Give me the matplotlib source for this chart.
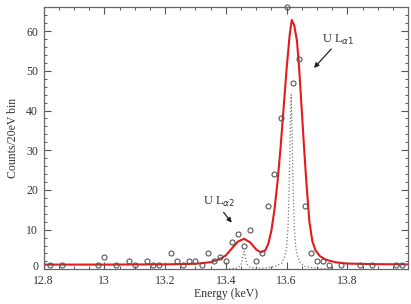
import matplotlib
matplotlib.use("Agg")
import matplotlib.pyplot as plt
import matplotlib.transforms as mtransforms
from matplotlib.ticker import MultipleLocator

# measured counts, 20 eV bins
energy = [12.82, 12.86, 12.98, 13.00, 13.04, 13.08, 13.10, 13.14, 13.16, 13.18,
          13.22, 13.24, 13.26, 13.28, 13.30, 13.32, 13.34, 13.36, 13.38, 13.40,
          13.42, 13.44, 13.46, 13.48, 13.50, 13.52, 13.54, 13.56, 13.58, 13.60,
          13.62, 13.64, 13.66, 13.68, 13.70, 13.72, 13.74, 13.78, 13.84, 13.88,
          13.96, 13.98]
counts = [1, 1, 1, 3, 1, 2, 1, 2, 1, 1,
          4, 2, 1, 2, 2, 1, 4, 2, 3, 2,
          7, 9, 6, 10, 2, 4, 16, 24, 38, 66,
          47, 53, 16, 4, 2, 2, 1, 1, 1, 1,
          1, 1]

# fitted curve (red)
fit_e = [12.80, 13.00, 13.20, 13.30, 13.35, 13.38, 13.40, 13.42, 13.44, 13.46,
         13.48, 13.50, 13.515, 13.53, 13.54, 13.55, 13.56, 13.57, 13.58, 13.59,
         13.60, 13.61, 13.617, 13.625, 13.634, 13.641, 13.650, 13.658, 13.665, 13.675,
         13.685, 13.695, 13.71, 13.73, 13.76, 13.80, 13.90, 14.00]
fit_c = [1.2, 1.2, 1.25, 1.4, 1.8, 2.6, 3.5, 5.3, 7.0, 7.7,
         6.8, 5.0, 4.3, 4.8, 6.5, 9.8, 15.0, 22.0, 30.5, 40.5,
         50.5, 59.0, 62.8, 61.5, 57.6, 51.0, 40.0, 30.0, 22.0, 12.0,
         7.0, 4.8, 3.3, 2.4, 1.8, 1.45, 1.3, 1.25]

# intrinsic line shapes (dotted)
line_e = [13.40, 13.42, 13.44, 13.45, 13.454, 13.457, 13.46, 13.463, 13.466, 13.47,
          13.48, 13.50, 13.53, 13.56, 13.585, 13.595, 13.60, 13.605, 13.609, 13.612,
          13.615, 13.618, 13.621, 13.625, 13.63, 13.635, 13.645, 13.66, 13.685, 13.715,
          13.75]
line_c = [0.1, 0.15, 0.4, 1.2, 2.3, 3.6, 4.5, 3.6, 2.3, 1.3,
          0.5, 0.3, 0.35, 0.7, 1.6, 3.6, 5.6, 11.0, 22.0, 35.0,
          44.0, 35.0, 22.0, 11.0, 5.6, 3.6, 1.6, 0.75, 0.4, 0.2,
          0.12]

xticks = [12.8, 13.0, 13.2, 13.4, 13.6, 13.8]
xtick_labels = ["12.8", "13", "13.2", "13.4", "13.6", "13.8"]
yticks = [0, 10, 20, 30, 40, 50, 60]

plt.rcParams["font.family"] = ["Liberation Serif", "DejaVu Serif"]
plt.rcParams["font.size"] = 8.5

fig = plt.figure(figsize=(4.11, 3.04), dpi=100)
ax = fig.add_axes([0.106, 0.114, 0.887, 0.862])

ax.plot(line_e, line_c, ls=":", color="#777777", lw=0.9)
ax.plot(fit_e, fit_c, color="#e41a1c", lw=1.5)
ax.plot(energy, counts, "o", mfc="none", mec="#555555", ms=3.6, mew=0.8, clip_on=False)

ax.set_xlim(12.8, 14.0)
ax.set_ylim(0, 66)
ax.set_xticks(xticks)
ax.set_xticklabels(xtick_labels)
ax.set_yticks(yticks)
ax.xaxis.set_minor_locator(MultipleLocator(0.05))
ax.yaxis.set_minor_locator(MultipleLocator(2))
ax.tick_params(which="both", direction="in", top=True, right=True, colors="#555555",
               labelcolor="#333333")
ax.tick_params(which="major", length=5, width=0.8)
ax.tick_params(which="minor", length=2.5, width=0.7)
ax.tick_params(axis="x", pad=4)
ax.tick_params(axis="y", pad=4)
for s in ax.spines.values():
    s.set_color("#666666")
    s.set_linewidth(0.9)

# lift the "0" label a little so it clears "12.8"
zero_lbl = ax.get_yticklabels()[0]
zero_lbl.set_transform(zero_lbl.get_transform() +
                       mtransforms.ScaledTranslation(0, 3 / 72, fig.dpi_scale_trans))

ax.set_xlabel("Energy (keV)", color="#333333", labelpad=1)
ax.set_ylabel("Counts/20eV bin", color="#333333", labelpad=5)

ax.annotate("", xy=(13.684, 50.2), xytext=(13.753, 56),
            arrowprops=dict(arrowstyle="-|>", color="#222222", lw=0.9, mutation_scale=7))
ax.text(13.716, 57.9, r"U L$_{\alpha1}$", fontsize=9, va="center", ha="left", color="#333333")
ax.annotate("", xy=(13.425, 11.2), xytext=(13.387, 14.9),
            arrowprops=dict(arrowstyle="-|>", color="#222222", lw=0.9, mutation_scale=7))
ax.text(13.325, 17.0, r"U L$_{\alpha2}$", fontsize=9, va="center", ha="left", color="#333333")

fig.savefig("out.png", dpi=100)
